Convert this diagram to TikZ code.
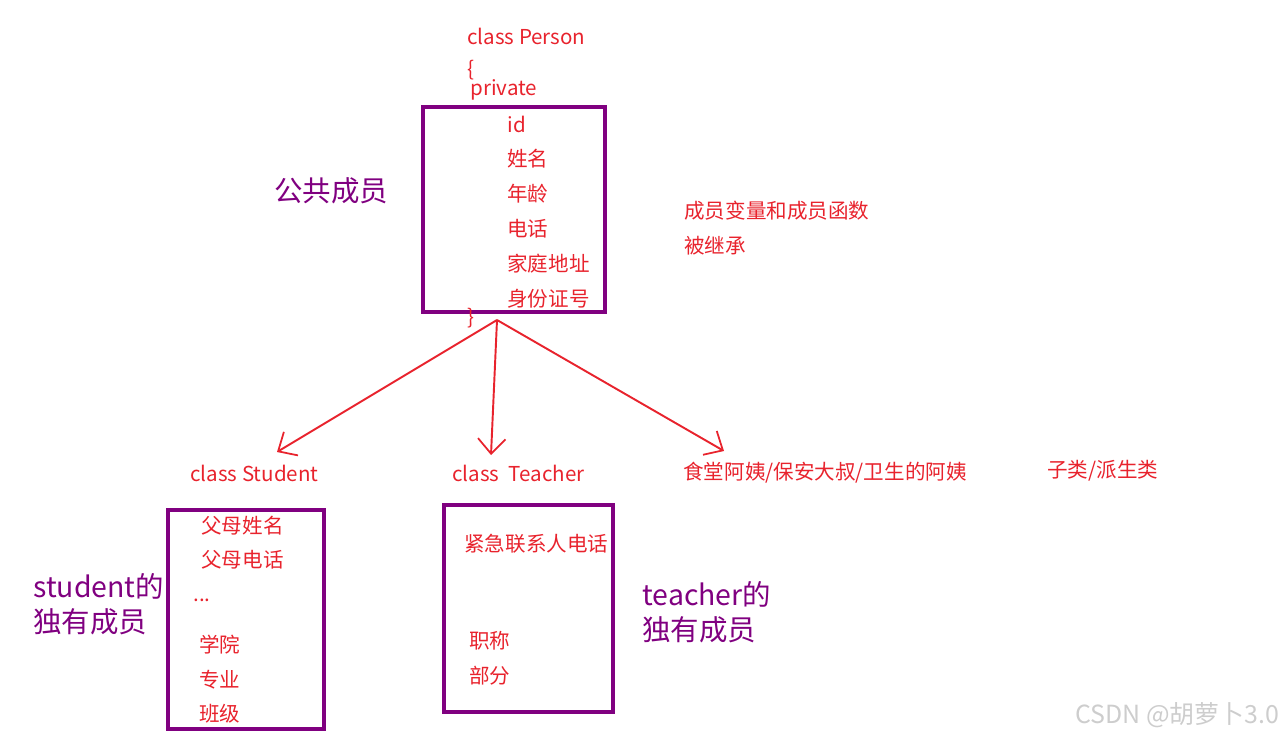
\documentclass[tikz,border=0pt]{standalone}
\usepackage{fontspec}
\usepackage{tikz}
\usetikzlibrary{arrows.meta, positioning, calc}
\newfontfamily\cjkfont{Noto Sans CJK SC}
\definecolor{inkred}   {RGB}{232,  35,  45}
\definecolor{inkpurple}{RGB}{128,   0, 128}
\definecolor{markgray} {RGB}{205, 205, 205}
\tikzset{
	redtxt/.style={anchor=west, inner sep=0pt, text=inkred, font=\cjkfont\fontsize{11.7}{13}\selectfont},
	purptxt/.style={anchor=west, inner sep=0pt, text=inkpurple, font=\cjkfont\fontsize{16.2}{18}\selectfont},
	membox/.style={draw=inkpurple, line width=2pt},
	inherit/.style={draw=inkred, line width=1.1pt, -{Straight Barb[length=3mm,width=5.5mm,line width=1pt]}}
}

\begin{document}
\begin{tikzpicture}[x=0.02cm, y=-0.02cm]
	\useasboundingbox (0,0) rectangle (1281,737);
	% base class
	\node[redtxt] (clsPerson) at (467,36) {class Person};
	\node[redtxt] (openBr) at (467,70) {\{};
	\node[redtxt] (priv) at (470,90) {private};
	\draw[membox] (423,107) rectangle (605,312);
	\node[redtxt] (mId)   at (507,124) {id};
	\node[redtxt] (mName) at (507,159) {姓名};
	\node[redtxt] (mAge)  at (507,194) {年龄};
	\node[redtxt] (mTel)  at (507,229) {电话};
	\node[redtxt] (mAddr) at (507,264) {家庭地址};
	\node[redtxt] (mIdNo) at (507,299) {身份证号};
	\node[redtxt] (closeBr) at (467,318) {\}};
	\node[purptxt] (common) at (274,191) {公共成员};
	\node[redtxt] (noteA) at (684,211) {成员变量和成员函数};
	\node[redtxt] (noteB) at (684,246) {被继承};
	% derived classes
	\node[redtxt] (clsStudent) at (190,473) {class Student};
	\node[redtxt] (clsTeacher) at (452,473) {class\ \ Teacher};
	\node[redtxt] (clsOther)   at (683,473) {食堂阿姨/保安大叔/卫生的阿姨};
	\node[redtxt] (subNote)    at (1047,471) {子类/派生类};
	\coordinate (apex) at (497,320);
	\coordinate (stuTip) at (277,452);
	\coordinate (teaTip) at (491,455);
	\coordinate (othTip) at (724,451);
	\draw[inherit] (apex) -- (stuTip);
	\draw[inherit] (apex) -- (teaTip);
	\draw[inherit] (apex) -- (othTip);
	% student members
	\draw[membox] (168,510) rectangle (324,729);
	\node[redtxt] (sPName) at (201,526) {父母姓名};
	\node[redtxt] (sPTel)  at (201,560) {父母电话};
	\node[redtxt] (sDots)  at (193,600) {...};
	\node[redtxt] (sColl)  at (199,645) {学院};
	\node[redtxt] (sMajor) at (199,680) {专业};
	\node[redtxt] (sClass) at (199,714) {班级};
	\node[purptxt] (stuOwnA) at (33,586) {student的};
	\node[purptxt] (stuOwnB) at (33,622) {独有成员};
	% teacher members
	\draw[membox] (444,505) rectangle (613,712);
	\node[redtxt] (tEmerg) at (464,544) {紧急联系人电话};
	\node[redtxt] (tTitle) at (469,641) {职称};
	\node[redtxt] (tDept)  at (469,676) {部分};
	\node[purptxt] (teaOwnA) at (642,594) {teacher的};
	\node[purptxt] (teaOwnB) at (642,630) {独有成员};
	\node[anchor=west, inner sep=0pt, text=markgray, font=\cjkfont\fontsize{14.2}{16}\selectfont] (wmark) at (1075,715) {CSDN @胡萝卜3.0};
\end{tikzpicture}
\end{document}
